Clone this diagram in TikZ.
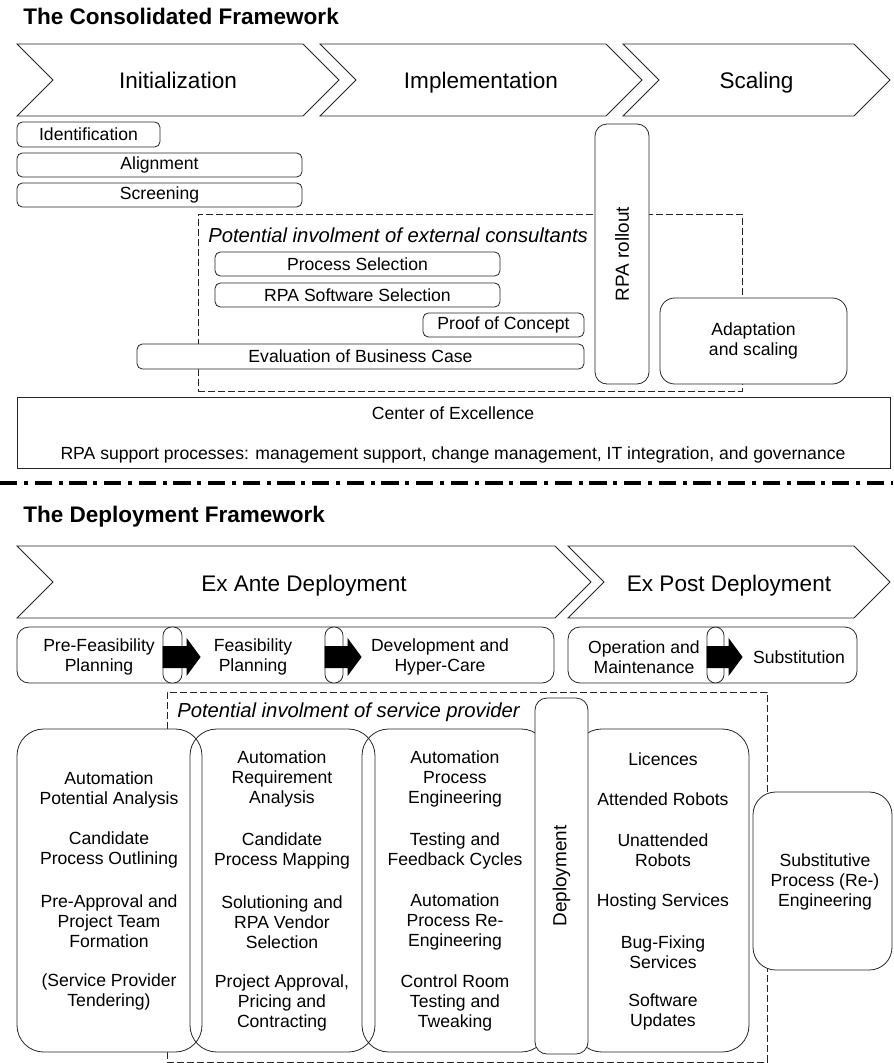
\documentclass[tikz,border=0pt]{standalone}
\usepackage{fontspec}
\setmainfont{Liberation Sans}
\usetikzlibrary{calc, fit}
\pgfdeclarelayer{background}
\pgfsetlayers{background,main}
\newcommand{\szsmall}{\fontsize{13.2}{15}\selectfont}
\newcommand{\szphase}{\fontsize{16.9}{20}\selectfont}
\newcommand{\szital}{\fontsize{15.2}{18}\selectfont\itshape}
\newcommand{\szrot}{\fontsize{14.2}{17}\selectfont}
\newcommand{\blockarrow}[2]{%
  \fill[shift={($(#1.west)+(0,2)$)}] (0,-11) -- (#2-14,-11) -- (#2-14,-19) -- (#2,0) -- (#2-14,19) -- (#2-14,11) -- (0,11) -- cycle;}
\tikzstyle{heading}  = [font=\bfseries\fontsize{16.9}{20}\selectfont, anchor=base west, inner sep=0pt]
\tikzstyle{chev}     = [draw=black!85, line width=0.6pt]
\tikzstyle{phase}    = [font=\szphase, anchor=base, inner sep=0pt]
\tikzstyle{taskbox}  = [draw=black!85, line width=0.6pt, rounded corners=4pt, fill=white, inner sep=0pt]
\tikzstyle{stagebox} = [draw=black!85, line width=0.6pt, rounded corners=9pt, inner sep=0pt]
\tikzstyle{gate}     = [draw=black!85, line width=0.6pt, rounded corners=6.5pt, fill=white, inner sep=0pt]
\tikzstyle{pill}     = [draw=black!85, line width=0.6pt, rounded corners=9pt, fill=white, inner sep=0pt]
\tikzstyle{colbox}   = [draw=black!85, line width=0.6pt, rounded corners=20pt, inner sep=0pt]
\tikzstyle{zone}     = [draw=black!85, line width=0.6pt, dash pattern=on 5pt off 2.5pt, inner sep=0pt]
\tikzstyle{txt}      = [font=\szsmall, align=center, inner sep=0pt]
\tikzstyle{rot}      = [font=\szrot, rotate=90, inner sep=0pt]
\tikzstyle{note}     = [font=\szital, anchor=west, inner sep=0pt]
\tikzstyle{divider}  = [line width=2.5pt, dash pattern=on 13pt off 5pt on 3pt off 5pt]

\begin{document}
\begin{tikzpicture}[x=0.75pt, y=-0.75pt]
  \useasboundingbox (0,0) rectangle (893,1063);

  % the consolidated framework
  \node[heading] (consol) at (23,25) {The Consolidated Framework};
  \foreach \l/\r/\n/\t in {17/303/init/Initialization, 320/606/impl/Implementation, 623/854/scal/Scaling} {
      \draw[chev] (\l,44) -- (\r,44) -- (\r+36,80) -- (\r,116) -- (\l,116) -- (\l+36,80) -- cycle;
      \node[phase] (\n) at ({(\l+\r+36)/2},89) {\t};
  }
  \node[taskbox, fit={(17,122) (160,147)}, label={[txt]center:Identification}] (ident) {};
  \node[taskbox, fit={(17,153) (302,177)}, label={[txt]center:Alignment}] (alignm) {};
  \node[taskbox, fit={(17,183) (302,207)}, label={[txt]center:Screening}] (screen) {};

  \begin{pgfonlayer}{background}
    \node[zone, fit={(198,214) (742,391)}] (consult) {};
  \end{pgfonlayer}
  \node[note] (consultnote) at (208,235) {Potential involment of external consultants};
  \node[taskbox, fit={(215,252) (500,276)}, label={[txt]center:Process Selection}] (procsel) {};
  \node[taskbox, fit={(215,283) (500,307)}, label={[txt]center:RPA Software Selection}] (swsel) {};
  \node[taskbox, fit={(423,313) (584,337)}, label={[txt]center:Proof of Concept}] (poc) {};
  \node[taskbox, fit={(137,344) (584,369)}, label={[txt]center:Evaluation of Business Case}] (evalbc) {};

  \node[pill, fit={(595,124) (649,384)}] (rollout) {};
  \node[rot] (rollouttxt) at (rollout.center) {RPA rollout};
  \node[taskbox, rounded corners=11pt, fit={(660,298) (847,384)}] (adapt) {};
  \node[txt] (adapttxt) at (adapt.center) {Adaptation\\and scaling};

  \node[taskbox, rounded corners=0pt, fit={(17,397) (890,468)}] (coe) {};
  \node[txt] (coetitle) at (453,413) {Center of Excellence};
  \node[txt] (coesub) at (453,455) {RPA support processes: management support, change management, IT integration, and governance};

  % divider
  \coordinate (sepL) at (0,483);
  \coordinate (sepR) at (893,483);
  \draw[divider] (sepL) -- (sepR);

  % the deployment framework
  \node[heading] (deploy) at (23,522) {The Deployment Framework};
  \foreach \l/\r/\n/\t in {17/555/exante/Ex Ante Deployment, 568/854/expost/Ex Post Deployment} {
      \draw[chev] (\l,546) -- (\r,546) -- (\r+36,582) -- (\r,618) -- (\l,618) -- (\l+36,582) -- cycle;
      \node[phase] (\n) at ({(\l+\r+36)/2},591) {\t};
  }

  \node[stagebox, fit={(17,627) (554,683)}] (antebox) {};
  \node[stagebox, fit={(568,627) (857,683)}] (postbox) {};
  \node[txt] (prefeas) at (99,657) {Pre-Feasibility\\Planning};
  \node[txt] (feas) at (253,657) {Feasibility\\Planning};
  \node[txt] (devel) at (440,657) {Development and\\Hyper-Care};
  \node[txt] (operat) at (644,657) {Operation and\\Maintenance};
  \node[txt] (substit) at (799,657) {Substitution};
  \node[gate, fit={(163,627) (182,683)}] (gateA) {};
  \node[gate, fit={(325,627) (343,683)}] (gateB) {};
  \node[gate, fit={(707,627) (724,683)}] (gateC) {};
  \blockarrow{gateA}{38}
  \blockarrow{gateB}{37}
  \blockarrow{gateC}{36}

  \begin{pgfonlayer}{background}
    \node[zone, fit={(167,692) (767,1062)}] (provider) {};
  \end{pgfonlayer}
  \node[note] (providernote) at (177,712) {Potential involment of service provider};

  \node[colbox, fill=white, fit={(17,729) (202,1052)}] (colA) {};
  \node[colbox, fit={(190,729) (375,1052)}] (colB) {};
  \node[colbox, fit={(362,729) (548,1052)}] (colC) {};
  \node[colbox, fit={(575,729) (749,1052)}] (colD) {};
  \node[pill, fit={(535,698) (588,1054)}] (deploypill) {};
  \node[rot] (deploytxt) at (deploypill.center) {Deployment};
  \node[colbox, rounded corners=17pt, fill=white, fit={(753,792) (892,970)}] (substbox) {};
  \node[txt] (substtxt) at (825,882) {Substitutive\\Process (Re-)\\Engineering};

  \foreach \y/\t [count=\i] in {{790/Automation\\Potential Analysis}, {850/Candidate\\Process Outlining}, {921/Pre-Approval and\\Project Team\\Formation}, {992/(Service Provider\\Tendering)}}
      \node[txt] (colA-\i) at (109,\y) {\t};
  \foreach \y/\t [count=\i] in {{779/Automation\\Requirement\\Analysis}, {851/Candidate\\Process Mapping}, {922/Solutioning and\\RPA Vendor\\Selection}, {1003/Project Approval,\\Pricing and\\Contracting}}
      \node[txt] (colB-\i) at (282,\y) {\t};
  \foreach \y/\t [count=\i] in {{779/Automation\\Process\\Engineering}, {851/Testing and\\Feedback Cycles}, {922/Automation\\Process Re-\\Engineering}, {1003/Control Room\\Testing and\\Tweaking}}
      \node[txt] (colC-\i) at (455,\y) {\t};
  \foreach \y/\t [count=\i] in {{759/Licences}, {799/Attended Robots}, {850/Unattended\\Robots}, {902/Hosting Services}, {952/Bug-Fixing\\Services}, {1012/Software\\Updates}}
      \node[txt] (colD-\i) at (663,\y) {\t};
\end{tikzpicture}
\end{document}
